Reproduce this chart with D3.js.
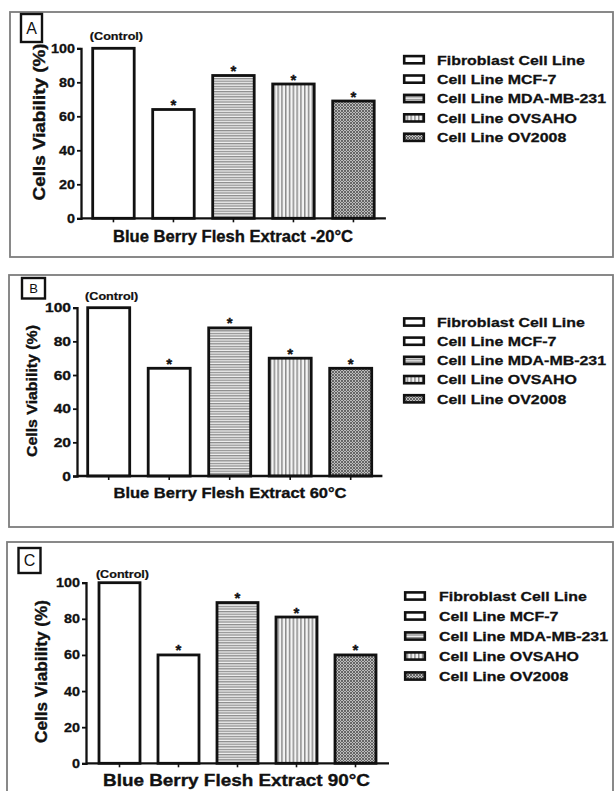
<!DOCTYPE html>
<html>
<head>
<meta charset="utf-8">
<script src="https://cdn.jsdelivr.net/npm/d3@7"></script>
<style>
  html, body { margin: 0; padding: 0; background: #fff; }
  svg { display: block; }
  text { font-family: "Liberation Sans", Arial, Helvetica, sans-serif; font-weight: bold; fill: #111; }
  text.heavy { stroke: #111; stroke-width: 0.35px; }
</style>
</head>
<body>
<svg id="chart" width="616" height="791"></svg>
<script>
// ---------------- data ----------------
const seriesNames = ["Fibroblast Cell Line", "Cell Line MCF-7", "Cell Line MDA-MB-231", "Cell Line OVSAHO", "Cell Line OV2008"];
const seriesFills = ["white", "white", "url(#hstripe)", "url(#vstripe)", "url(#check)"];
const valuesA = [100, 64, 84, 79, 69];
const valuesB = [100, 64, 88, 70, 64];
const valuesC = [100, 60, 89, 81, 60];
const significant = [false, true, true, true, true];
const panelLetters = ["A", "B", "C"];
const xTitles = ["Blue Berry Flesh Extract -20°C", "Blue Berry Flesh Extract 60°C", "Blue Berry Flesh Extract 90°C"];
const yTicks = [0, 20, 40, 60, 80, 100];
const yTitle = "Cells Viability (%)";
const controlLabel = "(Control)";
const panelValues = [valuesA, valuesB, valuesC];

// ---------------- layout (per panel) ----------------
const layouts = [
  { frame: [10, 12, 613, 257], box: [21, 14, 21, 28], letterSize: 16,
    ax0: 81, yBase: 218.3, yTop: 48.3, step: 60, bw: 41.5, outer: 11.7,
    xlab: [233, 242, 240, 16], ytl: [45, 122, 157, 16], ctrlY: 39.5, tickW: 1.15,
    leg: [403, 437, 59.7, 19.4] },
  { frame: [9, 275, 613, 527], box: [22, 278, 23, 20.5], letterSize: 13,
    ax0: 77, yBase: 476, yTop: 307.7, step: 60.5, bw: 42, outer: 10.7,
    xlab: [230, 498, 233, 15.5], ytl: [36.7, 391, 132, 15.5], ctrlY: 299.5, tickW: 1.25,
    leg: [403, 437, 322, 19.2] },
  { frame: [7, 542, 613, 830], box: [18.5, 548, 22, 25], letterSize: 16,
    ax0: 86, yBase: 763.3, yTop: 582.7, step: 59, bw: 41, outer: 13,
    xlab: [236.5, 785.5, 267, 16], ytl: [46.7, 671.5, 143, 16], ctrlY: 578, tickW: 1.15,
    leg: [404, 439, 596, 20] }
];

const svg = d3.select("#chart");

// ---------------- patterns ----------------
const defs = svg.append("defs");
const ph = defs.append("pattern").attr("id", "hstripe").attr("patternUnits", "userSpaceOnUse")
  .attr("width", 6).attr("height", 2.6);
ph.append("rect").attr("width", 6).attr("height", 2.6).attr("fill", "#f2f2f2");
ph.append("rect").attr("y", 0).attr("width", 6).attr("height", 1.3).attr("fill", "#8c8c8c");

const pv = defs.append("pattern").attr("id", "vstripe").attr("patternUnits", "userSpaceOnUse")
  .attr("width", 3.8).attr("height", 6);
pv.append("rect").attr("width", 3.8).attr("height", 6).attr("fill", "#f4f4f4");
pv.append("rect").attr("x", 0).attr("width", 1.5).attr("height", 6).attr("fill", "#8c8c8c");

const pc = defs.append("pattern").attr("id", "check").attr("patternUnits", "userSpaceOnUse")
  .attr("width", 3).attr("height", 3);
pc.append("rect").attr("width", 3).attr("height", 3).attr("fill", "#bdbdbd");
pc.append("path").attr("d", "M0,0L3,3M3,0L0,3").attr("stroke", "#5e5e5e").attr("stroke-width", 0.9);

function stretch(sel, k) {
  sel.each(function () {
    const n = this.getComputedTextLength();
    d3.select(this).attr("textLength", n * k).attr("lengthAdjust", "spacingAndGlyphs");
  });
}
function fitTo(sel, w) {
  sel.attr("textLength", w).attr("lengthAdjust", "spacingAndGlyphs");
}

layouts.forEach((L, pi) => {
  const vals = panelValues[pi];
  const g = svg.append("g");

  // frame
  g.append("rect")
    .attr("x", L.frame[0]).attr("y", L.frame[1])
    .attr("width", L.frame[2] - L.frame[0]).attr("height", L.frame[3] - L.frame[1])
    .attr("fill", "none").attr("stroke", "#7d7d7d").attr("stroke-width", 1.8);

  // panel letter box
  g.append("rect")
    .attr("x", L.box[0]).attr("y", L.box[1]).attr("width", L.box[2]).attr("height", L.box[3])
    .attr("fill", "white").attr("stroke", "#111").attr("stroke-width", 2.4);
  g.append("text")
    .attr("x", L.box[0] + L.box[2] / 2).attr("y", L.box[1] + L.box[3] / 2 + L.letterSize * 0.36)
    .attr("text-anchor", "middle").style("font-weight", "normal")
    .style("font-size", L.letterSize + "px").text(panelLetters[pi]);

  // scales
  const y = d3.scaleLinear().domain([0, 100]).range([L.yBase, L.yTop]);
  const pInner = 1 - L.bw / L.step;
  const pOuter = L.outer / L.step;
  const rangeLen = L.step * (seriesNames.length - pInner + 2 * pOuter);
  const x = d3.scaleBand().domain(seriesNames).range([L.ax0, L.ax0 + rangeLen])
    .paddingInner(pInner).paddingOuter(pOuter);

  // bars
  g.selectAll("rect.bar").data(vals).join("rect").attr("class", "bar")
    .attr("x", (d, i) => x(seriesNames[i]))
    .attr("y", d => y(d))
    .attr("width", x.bandwidth())
    .attr("height", d => y(0) - y(d))
    .attr("fill", (d, i) => seriesFills[i])
    .attr("stroke", "#111").attr("stroke-width", 2.8);

  // stars
  g.selectAll("text.star").data(vals.map((v, i) => ({ v, i })).filter(d => significant[d.i]))
    .join("text").attr("class", "star heavy")
    .attr("x", d => x(seriesNames[d.i]) + x.bandwidth() / 2)
    .attr("y", d => y(d.v) + 0.5)
    .attr("text-anchor", "middle").style("font-size", "15px").text("*");

  // control label
  const cl = g.append("text").attr("class", "heavy")
    .attr("x", x(seriesNames[0]) + x.bandwidth() / 2 + 3).attr("y", L.ctrlY)
    .attr("text-anchor", "middle").style("font-size", "10.5px").style("stroke-width", "0.2px")
    .text(controlLabel);
  stretch(cl, 1.2);

  // y axis
  const yAxis = d3.axisLeft(y).tickValues(yTicks).tickSize(4).tickPadding(2);
  const ya = g.append("g").attr("transform", `translate(${L.ax0},0)`).call(yAxis);
  ya.select(".domain").attr("stroke", "#111").attr("stroke-width", 2.3);
  ya.selectAll(".tick line").attr("stroke", "#111").attr("stroke-width", 1.8);
  const yt = ya.selectAll(".tick text").attr("fill", "#111").attr("class", "heavy")
    .style("font-family", '"Liberation Sans", Arial, sans-serif').style("font-weight", "bold")
    .style("font-size", "12.5px").style("stroke-width", "0.3px");
  stretch(yt, L.tickW);

  // x axis
  const xAxis = d3.axisBottom(x).tickSize(4).tickFormat("");
  const xa = g.append("g").attr("transform", `translate(0,${L.yBase})`).call(xAxis);
  xa.select(".domain").attr("stroke", "#111").attr("stroke-width", 2.3)
    .attr("d", `M${L.ax0},0H${L.ax0 + rangeLen}`);
  xa.selectAll(".tick line").attr("stroke", "#111").attr("stroke-width", 1.6);

  // x title
  const xt = g.append("text").attr("class", "heavy").attr("x", L.xlab[0]).attr("y", L.xlab[1])
    .attr("text-anchor", "middle").style("font-size", L.xlab[3] + "px").text(xTitles[pi]);
  fitTo(xt, L.xlab[2]);

  // y title
  const ytt = g.append("text").attr("class", "heavy")
    .attr("transform", `translate(${L.ytl[0]},${L.ytl[1]}) rotate(-90)`)
    .attr("text-anchor", "middle").style("font-size", L.ytl[3] + "px").text(yTitle);
  fitTo(ytt, L.ytl[2]);

  // legend
  const lg = g.append("g");
  seriesNames.forEach((name, i) => {
    const cy = L.leg[2] + i * L.leg[3];
    lg.append("rect").attr("x", L.leg[0] + 1.2).attr("y", cy - 3.6)
      .attr("width", 19.6).attr("height", 7.2)
      .attr("fill", seriesFills[i]).attr("stroke", "#111").attr("stroke-width", 2.6);
    const t = lg.append("text").attr("class", "heavy").attr("x", L.leg[1]).attr("y", cy + 4.8)
      .style("font-size", "13.5px").style("stroke-width", "0.3px").text(name);
    stretch(t, 1.18);
  });
});
</script>
</body>
</html>
